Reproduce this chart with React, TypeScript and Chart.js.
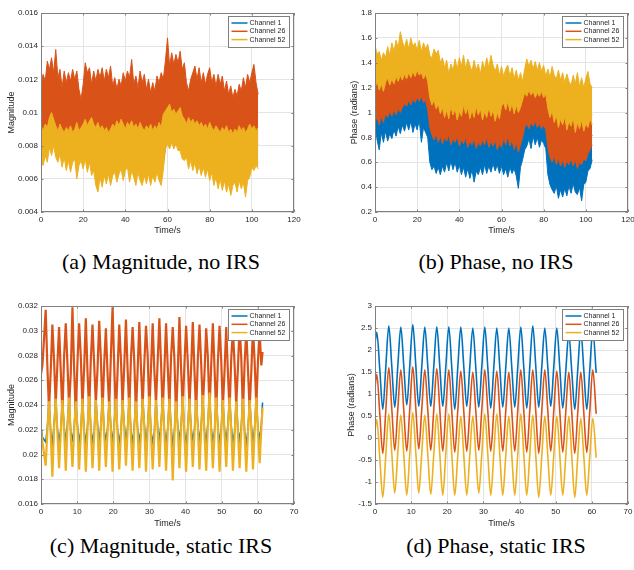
import React, { useEffect, useRef } from 'react';
import { Chart, registerables } from 'chart.js';

Chart.register(...registerables);

const BLUE = '#0072BD';
const ORANGE = '#D95319';
const YELLOW = '#EDB120';
const CHANNELS = ['Channel 1', 'Channel 26', 'Channel 52'];
const COLORS = [BLUE, ORANGE, YELLOW];
const FONT = "'Liberation Sans', Arial, Helvetica, sans-serif";
const INK = '#262626';
const GRID = '#e4e4e4';
const FRAME = '#808080';

// ---------- (a) Magnitude, no IRS : band envelopes (upper / lower) ----------
const tA = [0,1,2,3,4,5,6,7,8,9,10,11,12,13,14,15,16,17,18,19,20,21,22,23,24,25,26,27,28,29,30,31,32,33,34,35,36,37,38,39,40,41,42,43,44,45,46,47,48,49,50,51,52,53,54,55,56,57,58,59,60,61,62,63,64,65,66,67,68,69,70,71,72,73,74,75,76,77,78,79,80,81,82,83,84,85,86,87,88,89,90,91,92,93,94,95,96,97,98,99,100,101,102,103];
const t2 = [0,2,4,6,8,10,12,14,16,18,20,22,24,26,28,30,32,34,36,38,40,42,44,46,48,50,52,54,56,58,60,62,64,66,68,70,72,74,76,78,80,82,84,86,88,90,92,94,96,98,100,102,103];

const magA_ch26_hi = [.0116,.0123,.0119,.0131,.0126,.0133,.0124,.0138,.0121,.0126,.0115,.0125,.0118,.0124,.0119,.0126,.0120,.0125,.0114,.0108,.0117,.0130,.0124,.0127,.0117,.0125,.0119,.0126,.0121,.0127,.0119,.0126,.0121,.0128,.0116,.0121,.0114,.0120,.0116,.0124,.0119,.0125,.0121,.0132,.0117,.0122,.0115,.0125,.0118,.0123,.0114,.0120,.0112,.0118,.0113,.0122,.0118,.0124,.0120,.0131,.0145,.0128,.0136,.0129,.0135,.0130,.0137,.0126,.0130,.0118,.0113,.0120,.0124,.0128,.0120,.0127,.0118,.0124,.0117,.0123,.0127,.0118,.0123,.0116,.0123,.0117,.0122,.0113,.0119,.0111,.0116,.0109,.0114,.0110,.0117,.0113,.0121,.0115,.0123,.0118,.0124,.0129,.0118,.0111];
const magA_ch26_lo = [.0087,.0089,.0090,.0092,.0088,.0086,.0087,.0085,.0086,.0084,.0087,.0088,.0086,.0082,.0081,.0083,.0080,.0082,.0083,.0081,.0082,.0079,.0080,.0082,.0079,.0081,.0080,.0082,.0081,.0088,.0093,.0094,.0092,.0091,.0087,.0085,.0087,.0086,.0085,.0084,.0085,.0082,.0081,.0080,.0081,.0079,.0080,.0081,.0080,.0082,.0083,.0082,.0081];
const magA_ch52_hi = [.0092,.0089,.0093,.0091,.0097,.0100,.0096,.0092,.0089,.0093,.0090,.0088,.0091,.0089,.0092,.0088,.0090,.0094,.0089,.0091,.0093,.0096,.0092,.0095,.0097,.0093,.0091,.0094,.0090,.0092,.0089,.0091,.0088,.0090,.0093,.0091,.0095,.0092,.0096,.0093,.0090,.0094,.0092,.0095,.0091,.0093,.0090,.0094,.0091,.0089,.0092,.0090,.0093,.0089,.0092,.0090,.0094,.0091,.0099,.0101,.0103,.0105,.0100,.0102,.0099,.0101,.0103,.0098,.0096,.0093,.0097,.0094,.0096,.0093,.0095,.0092,.0094,.0091,.0093,.0090,.0094,.0091,.0089,.0092,.0090,.0088,.0091,.0089,.0092,.0088,.0090,.0087,.0090,.0088,.0092,.0089,.0091,.0088,.0090,.0093,.0090,.0092,.0089,.0091];
const magA_ch52_lo = [.0072,.0068,.0074,.0070,.0079,.0074,.0080,.0073,.0070,.0075,.0067,.0073,.0065,.0071,.0064,.0070,.0072,.0060,.0068,.0071,.0066,.0072,.0064,.0070,.0062,.0065,.0056,.0052,.0061,.0055,.0062,.0057,.0063,.0056,.0062,.0064,.0058,.0063,.0066,.0059,.0065,.0067,.0058,.0065,.0061,.0056,.0064,.0059,.0056,.0062,.0057,.0063,.0056,.0062,.0058,.0064,.0059,.0056,.0065,.0078,.0081,.0078,.0082,.0078,.0081,.0077,.0077,.0072,.0071,.0073,.0066,.0071,.0065,.0070,.0063,.0068,.0062,.0067,.0061,.0066,.0059,.0064,.0056,.0061,.0054,.0060,.0053,.0059,.0052,.0057,.0050,.0056,.0058,.0052,.0059,.0054,.0058,.0049,.0059,.0061,.0067,.0065,.0068,.0066];
const magA_ch1_hi = [.0093,.0090,.0097,.0094,.0089,.0088,.0089,.0088,.0089,.0088,.0091,.0092,.0094,.0090,.0089,.0088,.0087,.0090,.0092,.0093,.0089,.0091,.0090,.0089,.0089,.0090,.0090,.0090,.0091,.0098,.0101,.0103,.0104,.0102,.0094,.0094,.0094,.0093,.0092,.0091,.0091,.0088,.0088,.0089,.0089,.0088,.0088,.0089,.0089,.0088,.0089,.0088,.0089];
const magA_ch1_lo = [.0075,.0077,.0081,.0082,.0078,.0077,.0075,.0074,.0075,.0074,.0075,.0075,.0073,.0068,.0065,.0066,.0067,.0068,.0068,.0069,.0070,.0070,.0068,.0067,.0066,.0066,.0066,.0067,.0067,.0070,.0086,.0085,.0084,.0081,.0076,.0075,.0073,.0072,.0071,.0070,.0068,.0066,.0064,.0063,.0062,.0060,.0062,.0063,.0062,.0064,.0070,.0071,.0070];

// ---------- (b) Phase, no IRS ----------
const phB_ch52_hi = [1.54,1.47,1.49,1.42,1.48,1.44,1.53,1.46,1.56,1.49,1.58,1.52,1.65,1.57,1.52,1.59,1.51,1.60,1.53,1.56,1.50,1.58,1.49,1.56,1.51,1.55,1.46,1.44,1.51,1.47,1.50,1.40,1.44,1.36,1.42,1.31,1.39,1.34,1.43,1.35,1.44,1.37,1.46,1.35,1.43,1.38,1.33,1.42,1.34,1.39,1.31,1.41,1.35,1.44,1.36,1.46,1.38,1.33,1.39,1.30,1.37,1.29,1.35,1.38,1.29,1.36,1.27,1.34,1.26,1.32,1.25,1.35,1.43,1.37,1.42,1.35,1.41,1.34,1.40,1.33,1.38,1.29,1.35,1.28,1.37,1.30,1.27,1.34,1.26,1.32,1.24,1.31,1.25,1.22,1.30,1.23,1.32,1.21,1.28,1.20,1.27,1.33,1.23,1.20];
const phB_ch52_lo = [1.20,1.25,1.18,1.23,1.17,1.24,1.28,1.22,1.27,1.23,1.29,1.25,1.30,1.26,1.31,1.27,1.32,1.28,1.33,1.29,1.34,1.30,1.32,1.27,1.31,1.25,1.12,1.06,1.10,1.03,1.07,0.99,1.04,0.96,1.02,0.95,1.05,0.98,1.03,0.94,1.01,0.97,1.06,0.99,1.04,0.95,1.02,0.96,1.05,0.98,1.03,0.94,1.01,0.96,1.04,0.97,1.02,0.93,1.00,0.95,1.05,1.08,1.02,1.09,1.01,1.07,0.99,1.06,1.00,1.04,1.10,1.16,1.13,1.18,1.14,1.17,1.12,1.16,1.13,1.17,1.12,1.15,1.03,0.96,1.01,0.92,0.98,0.88,0.95,0.90,0.97,0.86,0.93,0.89,0.96,0.84,0.92,0.87,0.94,0.85,0.91,0.88,0.95,0.90];
const phB_ch26_hi = [1.33,1.30,1.34,1.36,1.35,1.38,1.40,1.38,1.40,1.39,1.40,1.38,1.37,1.20,1.14,1.12,1.10,1.12,1.13,1.11,1.12,1.14,1.12,1.10,1.12,1.11,1.10,1.12,1.10,1.09,1.13,1.14,1.12,1.10,1.09,1.16,1.22,1.23,1.22,1.21,1.22,1.10,1.05,1.02,1.01,1.00,1.00,1.01,0.99,0.98,0.99,1.00,0.98];
const phB_ch26_lo = [0.93,0.96,0.90,0.97,0.92,0.99,0.96,1.01,0.97,1.02,0.98,1.03,1.00,1.04,1.07,1.05,1.10,1.06,1.11,1.08,1.12,1.09,1.13,1.08,1.10,1.02,0.88,0.82,0.78,0.83,0.76,0.81,0.75,0.80,0.77,0.82,0.74,0.79,0.76,0.81,0.73,0.78,0.75,0.80,0.72,0.77,0.74,0.79,0.71,0.76,0.73,0.78,0.74,0.80,0.72,0.77,0.73,0.78,0.70,0.75,0.72,0.79,0.74,0.81,0.73,0.78,0.70,0.76,0.68,0.74,0.80,0.88,0.91,0.87,0.92,0.89,0.93,0.88,0.91,0.87,0.90,0.86,0.72,0.64,0.60,0.65,0.58,0.63,0.57,0.62,0.56,0.61,0.58,0.63,0.57,0.62,0.55,0.60,0.58,0.63,0.61,0.67,0.70,0.74];
const phB_ch1_hi = [1.02,1.00,1.04,1.06,1.07,1.08,1.10,1.12,1.14,1.15,1.16,1.15,1.13,0.95,0.88,0.86,0.85,0.87,0.86,0.85,0.84,0.86,0.83,0.84,0.82,0.84,0.85,0.84,0.83,0.82,0.84,0.85,0.84,0.82,0.80,0.88,0.95,0.96,0.97,0.95,0.94,0.78,0.72,0.70,0.69,0.68,0.69,0.68,0.67,0.68,0.72,0.78,0.82];
const phB_ch1_lo = [0.88,0.78,0.70,0.84,0.76,0.85,0.77,0.83,0.79,0.86,0.81,0.89,0.83,0.90,0.85,0.92,0.86,0.93,0.84,0.91,0.86,0.94,0.76,0.88,0.84,0.80,0.60,0.54,0.57,0.51,0.56,0.50,0.57,0.52,0.60,0.53,0.61,0.54,0.60,0.52,0.58,0.50,0.56,0.48,0.55,0.47,0.54,0.44,0.53,0.50,0.56,0.50,0.58,0.51,0.57,0.52,0.59,0.53,0.58,0.51,0.57,0.50,0.55,0.48,0.56,0.51,0.55,0.49,0.39,0.56,0.62,0.70,0.73,0.79,0.71,0.81,0.74,0.80,0.72,0.78,0.75,0.71,0.50,0.42,0.38,0.35,0.41,0.31,0.38,0.32,0.39,0.33,0.41,0.35,0.43,0.36,0.34,0.40,0.29,0.42,0.44,0.53,0.55,0.62];

// ---------- (c) Magnitude, static IRS ----------
const tC = [0,0.4,
1.3,1.76,2.22,2.69, 3.15,3.61,4.07,4.54, 5.0,5.46,5.92,6.39, 6.85,7.31,7.77,8.24,
8.7,9.16,9.62,10.09, 10.55,11.01,11.47,11.94, 12.4,12.86,13.32,13.79, 14.25,14.71,15.17,15.64,
16.1,16.56,17.02,17.49, 17.95,18.41,18.87,19.34, 19.8,20.26,20.72,21.19, 21.65,22.11,22.57,23.04,
23.5,23.96,24.42,24.89, 25.35,25.81,26.27,26.74, 27.2,27.66,28.12,28.59, 29.05,29.51,29.97,30.44,
30.9,31.36,31.82,32.29, 32.75,33.21,33.67,34.14, 34.6,35.06,35.52,35.99, 36.45,36.91,37.37,37.84,
38.3,38.76,39.22,39.69, 40.15,40.61,41.07,41.54, 42.0,42.46,42.92,43.39, 43.85,44.31,44.77,45.24,
45.7,46.16,46.62,47.09, 47.55,48.01,48.47,48.94, 49.4,49.86,50.32,50.79, 51.25,51.71,52.17,52.64,
53.1,53.56,54.02,54.49, 54.95,55.41,55.87,56.34, 56.8,57.26,57.72,58.19, 58.65,59.11,59.57,60.04,
60.5,60.96,61.3];
const magC_ch26 = [.0265,.0272,
.0317,.0271,.0236,.0268, .0305,.0276,.0240,.0273, .0303,.0268,.0233,.0279, .0306,.0274,.0238,.0266,
.0319,.0270,.0231,.0275, .0306,.0279,.0239,.0270, .0310,.0267,.0235,.0277, .0305,.0273,.0241,.0269,
.0308,.0278,.0234,.0274, .0302,.0266,.0238,.0280, .0319,.0272,.0232,.0267, .0305,.0277,.0240,.0272,
.0309,.0269,.0236,.0278, .0303,.0275,.0233,.0268, .0307,.0270,.0239,.0274, .0304,.0280,.0235,.0270,
.0306,.0268,.0241,.0276, .0310,.0274,.0234,.0269, .0306,.0271,.0238,.0279, .0303,.0277,.0230,.0267,
.0311,.0269,.0237,.0273, .0304,.0275,.0240,.0270, .0307,.0268,.0233,.0277, .0305,.0274,.0239,.0266,
.0302,.0279,.0236,.0272, .0306,.0270,.0232,.0275, .0304,.0276,.0238,.0268, .0303,.0267,.0235,.0278,
.0301,.0273,.0240,.0270, .0305,.0278,.0234,.0274, .0300,.0269,.0237,.0267, .0303,.0275,.0239,.0276,
.0298,.0272,.0283];
const magC_ch52 = [.0221,.0210,
.0191,.0219,.0243,.0216, .0182,.0221,.0245,.0218, .0189,.0217,.0244,.0220, .0187,.0222,.0246,.0215,
.0190,.0218,.0243,.0221, .0188,.0216,.0245,.0217, .0186,.0220,.0247,.0219, .0189,.0215,.0244,.0222,
.0187,.0221,.0246,.0216, .0190,.0218,.0243,.0220, .0186,.0222,.0245,.0217, .0188,.0216,.0244,.0221,
.0191,.0219,.0246,.0215, .0187,.0221,.0243,.0218, .0189,.0217,.0245,.0222, .0186,.0220,.0247,.0216,
.0188,.0215,.0244,.0219, .0190,.0222,.0246,.0217, .0187,.0218,.0245,.0220, .0179,.0216,.0243,.0221,
.0189,.0221,.0247,.0215, .0186,.0219,.0245,.0218, .0190,.0217,.0244,.0222, .0188,.0220,.0248,.0216,
.0187,.0222,.0250,.0219, .0189,.0216,.0246,.0221, .0186,.0218,.0244,.0217, .0190,.0221,.0246,.0220,
.0187,.0215,.0243,.0218, .0189,.0220,.0245,.0216, .0186,.0217,.0244,.0221, .0188,.0219,.0246,.0218,
.0193,.0221,.0238];
const magC_ch1 = [.0222,.0214,
.0210,.0222,.0245,.0219, .0209,.0224,.0247,.0221, .0211,.0220,.0246,.0223, .0210,.0225,.0247,.0218,
.0212,.0221,.0245,.0224, .0210,.0219,.0247,.0220, .0209,.0223,.0248,.0222, .0211,.0218,.0246,.0225,
.0210,.0224,.0247,.0219, .0212,.0221,.0245,.0223, .0209,.0225,.0247,.0220, .0210,.0219,.0246,.0224,
.0212,.0222,.0248,.0218, .0210,.0224,.0245,.0221, .0211,.0220,.0247,.0225, .0209,.0223,.0248,.0219,
.0210,.0218,.0246,.0222, .0212,.0225,.0247,.0220, .0210,.0221,.0247,.0223, .0208,.0219,.0245,.0224,
.0211,.0224,.0248,.0218, .0209,.0222,.0247,.0221, .0212,.0220,.0246,.0225, .0210,.0223,.0249,.0219,
.0210,.0225,.0250,.0222, .0211,.0219,.0248,.0224, .0209,.0221,.0246,.0220, .0212,.0224,.0248,.0223,
.0210,.0218,.0246,.0221, .0211,.0223,.0247,.0219, .0209,.0220,.0246,.0224, .0210,.0222,.0247,.0221,
.0212,.0224,.0242];

// ---------- (d) Phase, static IRS ----------
const tD = [0,
0.5,1.33,2.15,2.98, 3.82,4.65,5.47,6.3, 7.14,7.97,8.79,9.62, 10.46,11.29,12.11,12.94,
13.78,14.61,15.43,16.26, 17.1,17.93,18.75,19.58, 20.42,21.25,22.07,22.9, 23.74,24.57,25.39,26.22,
27.06,27.89,28.71,29.54, 30.38,31.21,32.03,32.86, 33.7,34.53,35.35,36.18, 37.02,37.85,38.67,39.5,
40.34,41.17,41.99,42.82, 43.66,44.49,45.31,46.14, 46.98,47.81,48.63,49.46, 50.3,51.13,51.95,52.78,
53.62,54.45,55.27,56.1, 56.94,57.77,58.59,59.42,
60.26,61.2];
const phD_ch1 = [2.15,
2.40,1.55,0.65,1.60, 2.55,1.62,0.70,1.62, 2.52,1.63,0.75,1.64, 2.58,1.65,0.72,1.62,
2.52,1.62,0.72,1.62, 2.53,1.62,0.72,1.60, 2.53,1.59,0.65,1.59, 2.52,1.62,0.72,1.61,
2.50,1.60,0.70,1.61, 2.52,1.60,0.68,1.59, 2.50,1.60,0.70,1.60, 2.50,1.60,0.70,1.61,
2.52,1.60,0.68,1.61, 2.55,1.62,0.70,1.61, 2.50,1.61,0.72,1.61, 2.50,1.59,0.68,1.52,
2.37,1.51,0.65,1.55, 2.45,1.55,0.65,1.55,
2.45,1.48];
const phD_ch26 = [1.15,
1.45,0.55,-0.35,0.62, 1.60,0.66,-0.28,0.64, 1.55,0.62,-0.30,0.66, 1.62,0.68,-0.25,0.65,
1.55,0.63,-0.28,0.64, 1.58,0.64,-0.30,0.63, 1.55,0.61,-0.32,0.62, 1.52,0.60,-0.30,0.61,
1.50,0.61,-0.28,0.63, 1.55,0.62,-0.30,0.62, 1.52,0.61,-0.30,0.61, 1.50,0.60,-0.30,0.62,
1.55,0.61,-0.32,0.62, 1.55,0.60,-0.35,0.60, 1.55,0.62,-0.30,0.61, 1.52,0.60,-0.32,0.59,
1.50,0.57,-0.35,0.58, 1.50,0.58,-0.33,0.61,
1.55,0.55];
const phD_ch52 = [0.15,
0.42,-0.46,-1.35,-0.40, 0.55,-0.35,-1.25,-0.35, 0.52,-0.39,-1.30,-0.36, 0.58,-0.33,-1.25,-0.34,
0.52,-0.38,-1.28,-0.38, 0.55,-0.37,-1.30,-0.37, 0.55,-0.37,-1.30,-0.40, 0.50,-0.40,-1.30,-0.40,
0.50,-0.37,-1.25,-0.37, 0.55,-0.37,-1.30,-0.37, 0.55,-0.37,-1.30,-0.40, 0.50,-0.40,-1.30,-0.37,
0.55,-0.37,-1.30,-0.39, 0.52,-0.41,-1.35,-0.42, 0.50,-0.40,-1.30,-0.40, 0.50,-0.40,-1.30,-0.42,
0.50,-0.42,-1.35,-0.42, 0.45,-0.42,-1.30,-0.42,
0.45,-0.45];

// ---------- helpers ----------
type Pt = { x: number; y: number };
const pts = (xs: number[], ys: number[]): Pt[] => ys.map((y, i) => ({ x: xs[i], y }));
const fmt = (v: number | string) => String(parseFloat(Number(v).toFixed(4)));

function band(color: string, xHi: number[], hi: number[], xLo: number[], lo: number[]) {
  return [
    { data: pts(xHi, hi), borderColor: color, backgroundColor: color, borderWidth: 1, pointRadius: 0, fill: '+1' },
    { data: pts(xLo, lo), borderColor: color, backgroundColor: color, borderWidth: 1, pointRadius: 0, fill: false },
  ];
}

function line(color: string, xs: number[], ys: number[], width: number, smooth: boolean) {
  return {
    data: pts(xs, ys), borderColor: color, backgroundColor: color, borderWidth: width, pointRadius: 0, fill: false,
    cubicInterpolationMode: smooth ? 'monotone' : 'default', tension: 0,
  };
}

function framePlugin() {
  return {
    id: 'frame',
    afterDraw(chart: any) {
      const { ctx, chartArea: a, scales } = chart;
      ctx.save();
      ctx.strokeStyle = FRAME;
      ctx.lineWidth = 1;
      const tl = 2.5;
      ctx.beginPath();
      for (const t of scales.x.ticks) {
        const px = Math.round(scales.x.getPixelForValue(t.value)) + 0.5;
        ctx.moveTo(px, a.bottom); ctx.lineTo(px, a.bottom - tl);
        ctx.moveTo(px, a.top); ctx.lineTo(px, a.top + tl);
      }
      for (const t of scales.y.ticks) {
        const py = Math.round(scales.y.getPixelForValue(t.value)) + 0.5;
        ctx.moveTo(a.left, py); ctx.lineTo(a.left + tl, py);
        ctx.moveTo(a.right, py); ctx.lineTo(a.right - tl, py);
      }
      ctx.stroke();
      ctx.strokeRect(Math.round(a.left) + 0.5, Math.round(a.top) + 0.5, Math.round(a.right - a.left) - 1, Math.round(a.bottom - a.top) - 1);
      // legend box
      const w = 61, h = 31;
      const lx = Math.round(a.right - 5 - w) + 0.5;
      const ly = Math.round(a.top + 3) + 0.5;
      ctx.fillStyle = '#ffffff';
      ctx.fillRect(lx, ly, w, h);
      ctx.strokeStyle = FRAME;
      ctx.strokeRect(lx, ly, w, h);
      ctx.font = `7px ${FONT}`;
      ctx.textBaseline = 'middle';
      ctx.textAlign = 'left';
      CHANNELS.forEach((label, i) => {
        const y = ly + 6.5 + i * 8.3;
        ctx.strokeStyle = COLORS[i];
        ctx.lineWidth = 1.5;
        ctx.beginPath(); ctx.moveTo(lx + 3, y); ctx.lineTo(lx + 19, y); ctx.stroke();
        ctx.fillStyle = INK;
        ctx.fillText(label, lx + 21, y);
      });
      ctx.restore();
    },
  };
}

type Spec = {
  datasets: any[];
  xMax: number; xStep: number;
  yMin: number; yMax: number; yStep: number;
  yTitle: string;
  padLeft: number; padTop: number; padRight: number;
  yWidth: number; xHeight: number;
};

function makeConfig(s: Spec): any {
  const tickFont = { size: 8, family: FONT };
  const titleFont = { size: 9, family: FONT };
  return {
    type: 'line',
    data: { datasets: s.datasets },
    options: {
      responsive: false,
      animation: false,
      devicePixelRatio: 1,
      events: [],
      layout: { padding: { left: s.padLeft, top: s.padTop, right: s.padRight, bottom: 4 } },
      plugins: { legend: { display: false }, tooltip: { enabled: false } },
      elements: { point: { radius: 0 } },
      scales: {
        x: {
          type: 'linear', min: 0, max: s.xMax,
          ticks: { stepSize: s.xStep, font: tickFont, color: INK, padding: 3, maxRotation: 0, autoSkip: false, callback: fmt },
          grid: { color: GRID, drawTicks: false },
          border: { display: false },
          title: { display: true, text: 'Time/s', font: titleFont, color: INK, padding: 0 },
          afterFit: (sc: any) => { sc.height = s.xHeight; sc.paddingLeft = 0; sc.paddingRight = 0; },
        },
        y: {
          type: 'linear', min: s.yMin, max: s.yMax,
          ticks: { stepSize: s.yStep, font: tickFont, color: INK, padding: 3, autoSkip: false, callback: fmt },
          grid: { color: GRID, drawTicks: false },
          border: { display: false },
          title: { display: true, text: s.yTitle, font: titleFont, color: INK, padding: 0 },
          afterFit: (sc: any) => { sc.width = s.yWidth; sc.paddingTop = 0; sc.paddingBottom = 0; },
        },
      },
    },
    plugins: [framePlugin()],
  };
}

function Panel({ spec, left, top }: { spec: Spec; left: number; top: number }) {
  const ref = useRef<HTMLCanvasElement>(null);
  useEffect(() => {
    const chart = new Chart(ref.current as HTMLCanvasElement, makeConfig(spec));
    return () => chart.destroy();
  }, []);
  return (
    <canvas ref={ref} width={317} height={240}
      style={{ position: 'absolute', left, top, width: 317, height: 240, display: 'block' }} />
  );
}

const specA: Spec = {
  datasets: [
    ...band(YELLOW, tA, magA_ch52_hi, tA, magA_ch52_lo),
    ...band(ORANGE, tA, magA_ch26_hi, t2, magA_ch26_lo),
    ...band(BLUE, t2, magA_ch1_hi, t2, magA_ch1_lo),
  ],
  xMax: 120, xStep: 20, yMin: 0.004, yMax: 0.016, yStep: 0.002, yTitle: 'Magnitude',
  padLeft: 6, padTop: 13, padRight: 23, yWidth: 35, xHeight: 24,
};
const specB: Spec = {
  datasets: [
    ...band(YELLOW, tA, phB_ch52_hi, tA, phB_ch52_lo),
    ...band(ORANGE, t2, phB_ch26_hi, tA, phB_ch26_lo),
    ...band(BLUE, t2, phB_ch1_hi, tA, phB_ch1_lo),
  ],
  xMax: 120, xStep: 20, yMin: 0.2, yMax: 1.8, yStep: 0.2, yTitle: 'Phase (radians)',
  padLeft: 32, padTop: 13, padRight: 6, yWidth: 26, xHeight: 24,
};
const specC: Spec = {
  datasets: [
    line(YELLOW, tC, magC_ch52, 2.2, false),
    line(ORANGE, tC, magC_ch26, 2.2, false),
    line(BLUE, tC, magC_ch1, 1.5, false),
  ],
  xMax: 70, xStep: 10, yMin: 0.016, yMax: 0.032, yStep: 0.002, yTitle: 'Magnitude',
  padLeft: 6, padTop: 13, padRight: 23, yWidth: 35, xHeight: 25,
};
const specD: Spec = {
  datasets: [
    line(YELLOW, tD, phD_ch52, 1.6, true),
    line(ORANGE, tD, phD_ch26, 1.6, true),
    line(BLUE, tD, phD_ch1, 1.6, true),
  ],
  xMax: 70, xStep: 10, yMin: -1.5, yMax: 3, yStep: 0.5, yTitle: 'Phase (radians)',
  padLeft: 29, padTop: 13, padRight: 6, yWidth: 29, xHeight: 25,
};

const CAPTIONS = [
  { text: '(a) Magnitude, no IRS', cx: 161, cy: 262 },
  { text: '(b) Phase, no IRS', cx: 496, cy: 262 },
  { text: '(c) Magnitude, static IRS', cx: 161, cy: 546 },
  { text: '(d) Phase, static IRS', cx: 496, cy: 546 },
];

export default function App() {
  return (
    <div style={{ position: 'absolute', left: 0, top: 0, width: 634, height: 570, background: '#ffffff', overflow: 'hidden' }}>
      <Panel spec={specA} left={0} top={0} />
      <Panel spec={specB} left={317} top={0} />
      <Panel spec={specC} left={0} top={293} />
      <Panel spec={specD} left={317} top={293} />
      {CAPTIONS.map((c) => (
        <div key={c.text} style={{
          position: 'absolute', left: c.cx - 200, top: c.cy - 12, width: 400, height: 24, lineHeight: '24px',
          textAlign: 'center', fontFamily: "'Liberation Serif', 'Times New Roman', serif", fontSize: 22, color: '#000', whiteSpace: 'nowrap',
        }}>{c.text}</div>
      ))}
    </div>
  );
}
